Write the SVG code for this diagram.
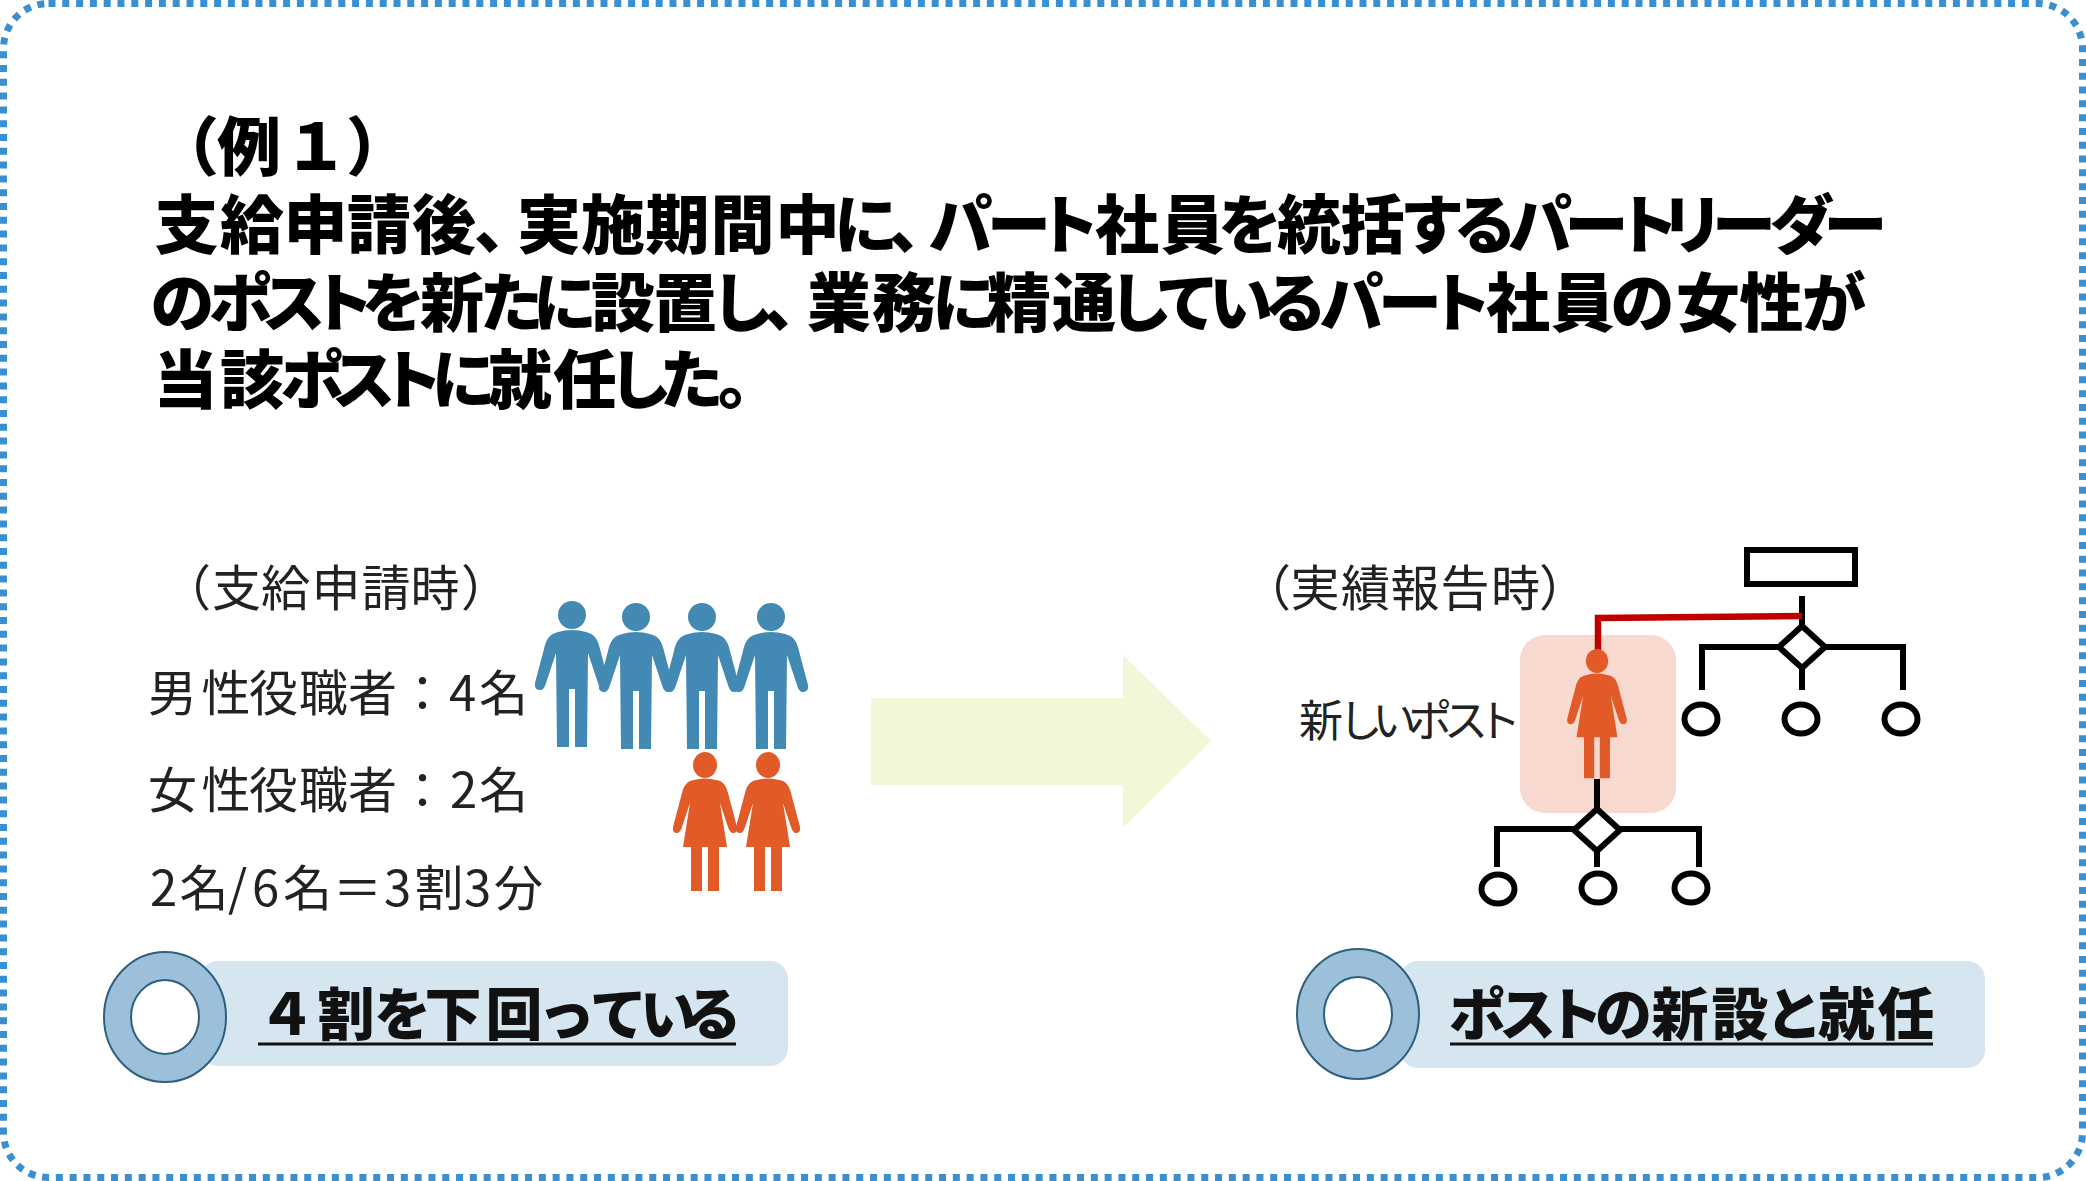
<svg xmlns="http://www.w3.org/2000/svg" xmlns:xlink="http://www.w3.org/1999/xlink" width="2086" height="1181" viewBox="0 0 2086 1181">
<style>
text{font-family:"Noto Sans CJK JP","Noto Sans",sans-serif;fill:#111}
.t{font-size:64px;font-weight:900;fill:#000}
.b{font-size:49px;font-weight:400;fill:#222}
.n{font-size:44px;font-weight:400;fill:#222}
.p{font-size:57px;font-weight:900;fill:#111}
.ln{fill:none;stroke:#000;stroke-width:6}
.nd{fill:#fff;stroke:#000;stroke-width:6}
.pill{fill:#d6e6f0}
.ring{fill:#9cc0d9;stroke:#2f5f80;stroke-width:2;fill-rule:evenodd}
.ul{stroke:#111;stroke-width:3}
.m{fill:#428ab4}
.w{fill:#e25a28}
</style>
<defs>
<g id="man">
<circle cx="0" cy="0" r="14"/>
<path d="M-14,17Q0,13 14,17C22,19 26,24 28,34L37,68Q38,74 33,75Q28,76 26,68L16,38L15,132H3V74H-3V132H-15L-16,38L-26,68Q-28,76 -33,75Q-38,74 -37,68L-28,34C-26,24 -22,19 -14,17Z"/>
</g>
<g id="woman">
<ellipse cx="0" cy="0" rx="12" ry="13"/>
<path d="M-11,15Q0,12 11,15C18,16 21,20 23,28L32,62Q33,68 28,68Q25,68 23,62L15,38L22,82H14V126H3V82H-3V126H-14V82H-22L-15,38L-23,62Q-25,68 -28,68Q-33,68 -32,62L-23,28C-21,20 -18,16 -11,15Z"/>
</g>
</defs>
<rect width="2086" height="1181" fill="#fff"/>
<rect id="frame" x="3.5" y="3.5" width="2079" height="1174" rx="45" fill="none" stroke="#3a8fd0" stroke-width="7" stroke-dasharray="7 6.8"/>
<g id="title">
<text class="t" y="170" x="155 217 284 346">（例１）</text>
<text class="t" y="248" x="154.5 220 283.5 347 412 474 517 581 645.5 710.5 775.5 834 889 928.5 987 1036 1095 1160.5 1218 1277 1340.5 1400 1453 1508 1564.5 1615 1660 1712 1770 1823.5">支給申請後、実施期間中に、パート社員を統括するパートリーダー</text>
<text class="t" y="325.5" x="150.5 209 261.5 310 361.5 420 479.5 533 591 653 710.5 764 807 872 932 987 1052 1108 1155.5 1209 1263 1319.5 1378 1428 1486 1550.5 1610.5 1676 1739.5 1802">のポストを新たに設置し、業務に精通しているパート社員の女性が</text>
<text class="t" y="403" x="153.5 220 280.5 331.5 379 431.5 488 553 608 659.5 718">当該ポストに就任した。</text>
</g>
<g id="before-labels">
<text class="b" y="606" x="162 212 261 311.5 361.5 410.5 461">（支給申請時）</text>
<text class="b" y="711" x="148 201.5 249 299 348 398 449 479">男性役職者：4名</text>
<text class="b" y="808" x="148 201.5 249 299 348 398 450 479">女性役職者：2名</text>
<text class="b" y="906" x="150 179.5 228 252 283 333 384 414.5 464 494">2名/6名＝3割3分</text>
</g>
<g id="men" class="m">
<use xlink:href="#man" x="572" y="615"/>
<use xlink:href="#man" x="636" y="617"/>
<use xlink:href="#man" x="702" y="617"/>
<use xlink:href="#man" x="771" y="617"/>
</g>
<g id="women" class="w">
<use xlink:href="#woman" x="705" y="765"/>
<use xlink:href="#woman" x="768" y="765"/>
</g>
<g id="result-left">
<rect class="pill" x="200" y="961" width="588" height="105" rx="18"/>
<path class="ring" d="M104,1017a61,65 0 1,0 122,0a61,65 0 1,0 -122,0ZM131,1017a34,37 0 1,0 68,0a34,37 0 1,0 -68,0Z"/>
<text class="p" y="1035" x="258 317.5 374 424.5 485.5 538 590 640 684.5">４割を下回っている</text>
<line class="ul" x1="258" y1="1044" x2="736" y2="1044"/>
</g>
<g id="arrow">
<path d="M871,698H1123V655L1211,741L1123,828V785H871Z" fill="#f2f7d8"/>
</g>
<g id="after-label">
<text class="b" y="606" x="1242 1290.5 1341 1390.5 1440.5 1491 1539">（実績報告時）</text>
</g>
<g id="new-post-highlight">
<rect x="1520" y="635" width="156" height="178" rx="25" fill="#f8d9d0"/>
</g>
<g id="connectors">
<path class="ln" d="M1802,596V625M1702,690V647H1903V690M1802,667V690"/>
<path class="ln" d="M1597,779V810M1497,867V829H1699V867M1597,849V867"/>
<path d="M1802,616L1598,618V650" fill="none" stroke="#c00000" stroke-width="6.5"/>
</g>
<g id="top-box"><rect class="nd" x="1747" y="550" width="108" height="34"/></g>
<g id="diamond-1"><path class="nd" d="M1802,626L1825,647L1802,668L1779,647Z"/></g>
<g id="node-1a"><ellipse class="nd" cx="1701" cy="719" rx="16.5" ry="14.5"/></g>
<g id="node-1b"><ellipse class="nd" cx="1801" cy="719" rx="16.5" ry="14.5"/></g>
<g id="node-1c"><ellipse class="nd" cx="1901" cy="719" rx="16.5" ry="14.5"/></g>
<g id="new-post">
<use xlink:href="#woman" class="w" transform="translate(1597,661) scale(.93)"/>
<text class="n" y="737" x="1299 1338.5 1372.5 1408 1444 1477">新しいポスト</text>
</g>
<g id="diamond-2"><path class="nd" d="M1597,809L1620,830L1597,851L1574,830Z"/></g>
<g id="node-2a"><ellipse class="nd" cx="1498" cy="889" rx="16.5" ry="14.5"/></g>
<g id="node-2b"><ellipse class="nd" cx="1598" cy="888" rx="16.5" ry="14.5"/></g>
<g id="node-2c"><ellipse class="nd" cx="1691" cy="888" rx="16.5" ry="14.5"/></g>
<g id="result-right">
<rect class="pill" x="1400" y="961" width="585" height="107" rx="18"/>
<path class="ring" d="M1297,1014a61,65 0 1,0 122,0a61,65 0 1,0 -122,0ZM1324,1014a34,37 0 1,0 68,0a34,37 0 1,0 -68,0Z"/>
<text class="p" y="1035" x="1449 1499 1546 1595 1651.5 1711.5 1765.5 1818 1877.5">ポストの新設と就任</text>
<line class="ul" x1="1450" y1="1044" x2="1933" y2="1044"/>
</g>
</svg>
